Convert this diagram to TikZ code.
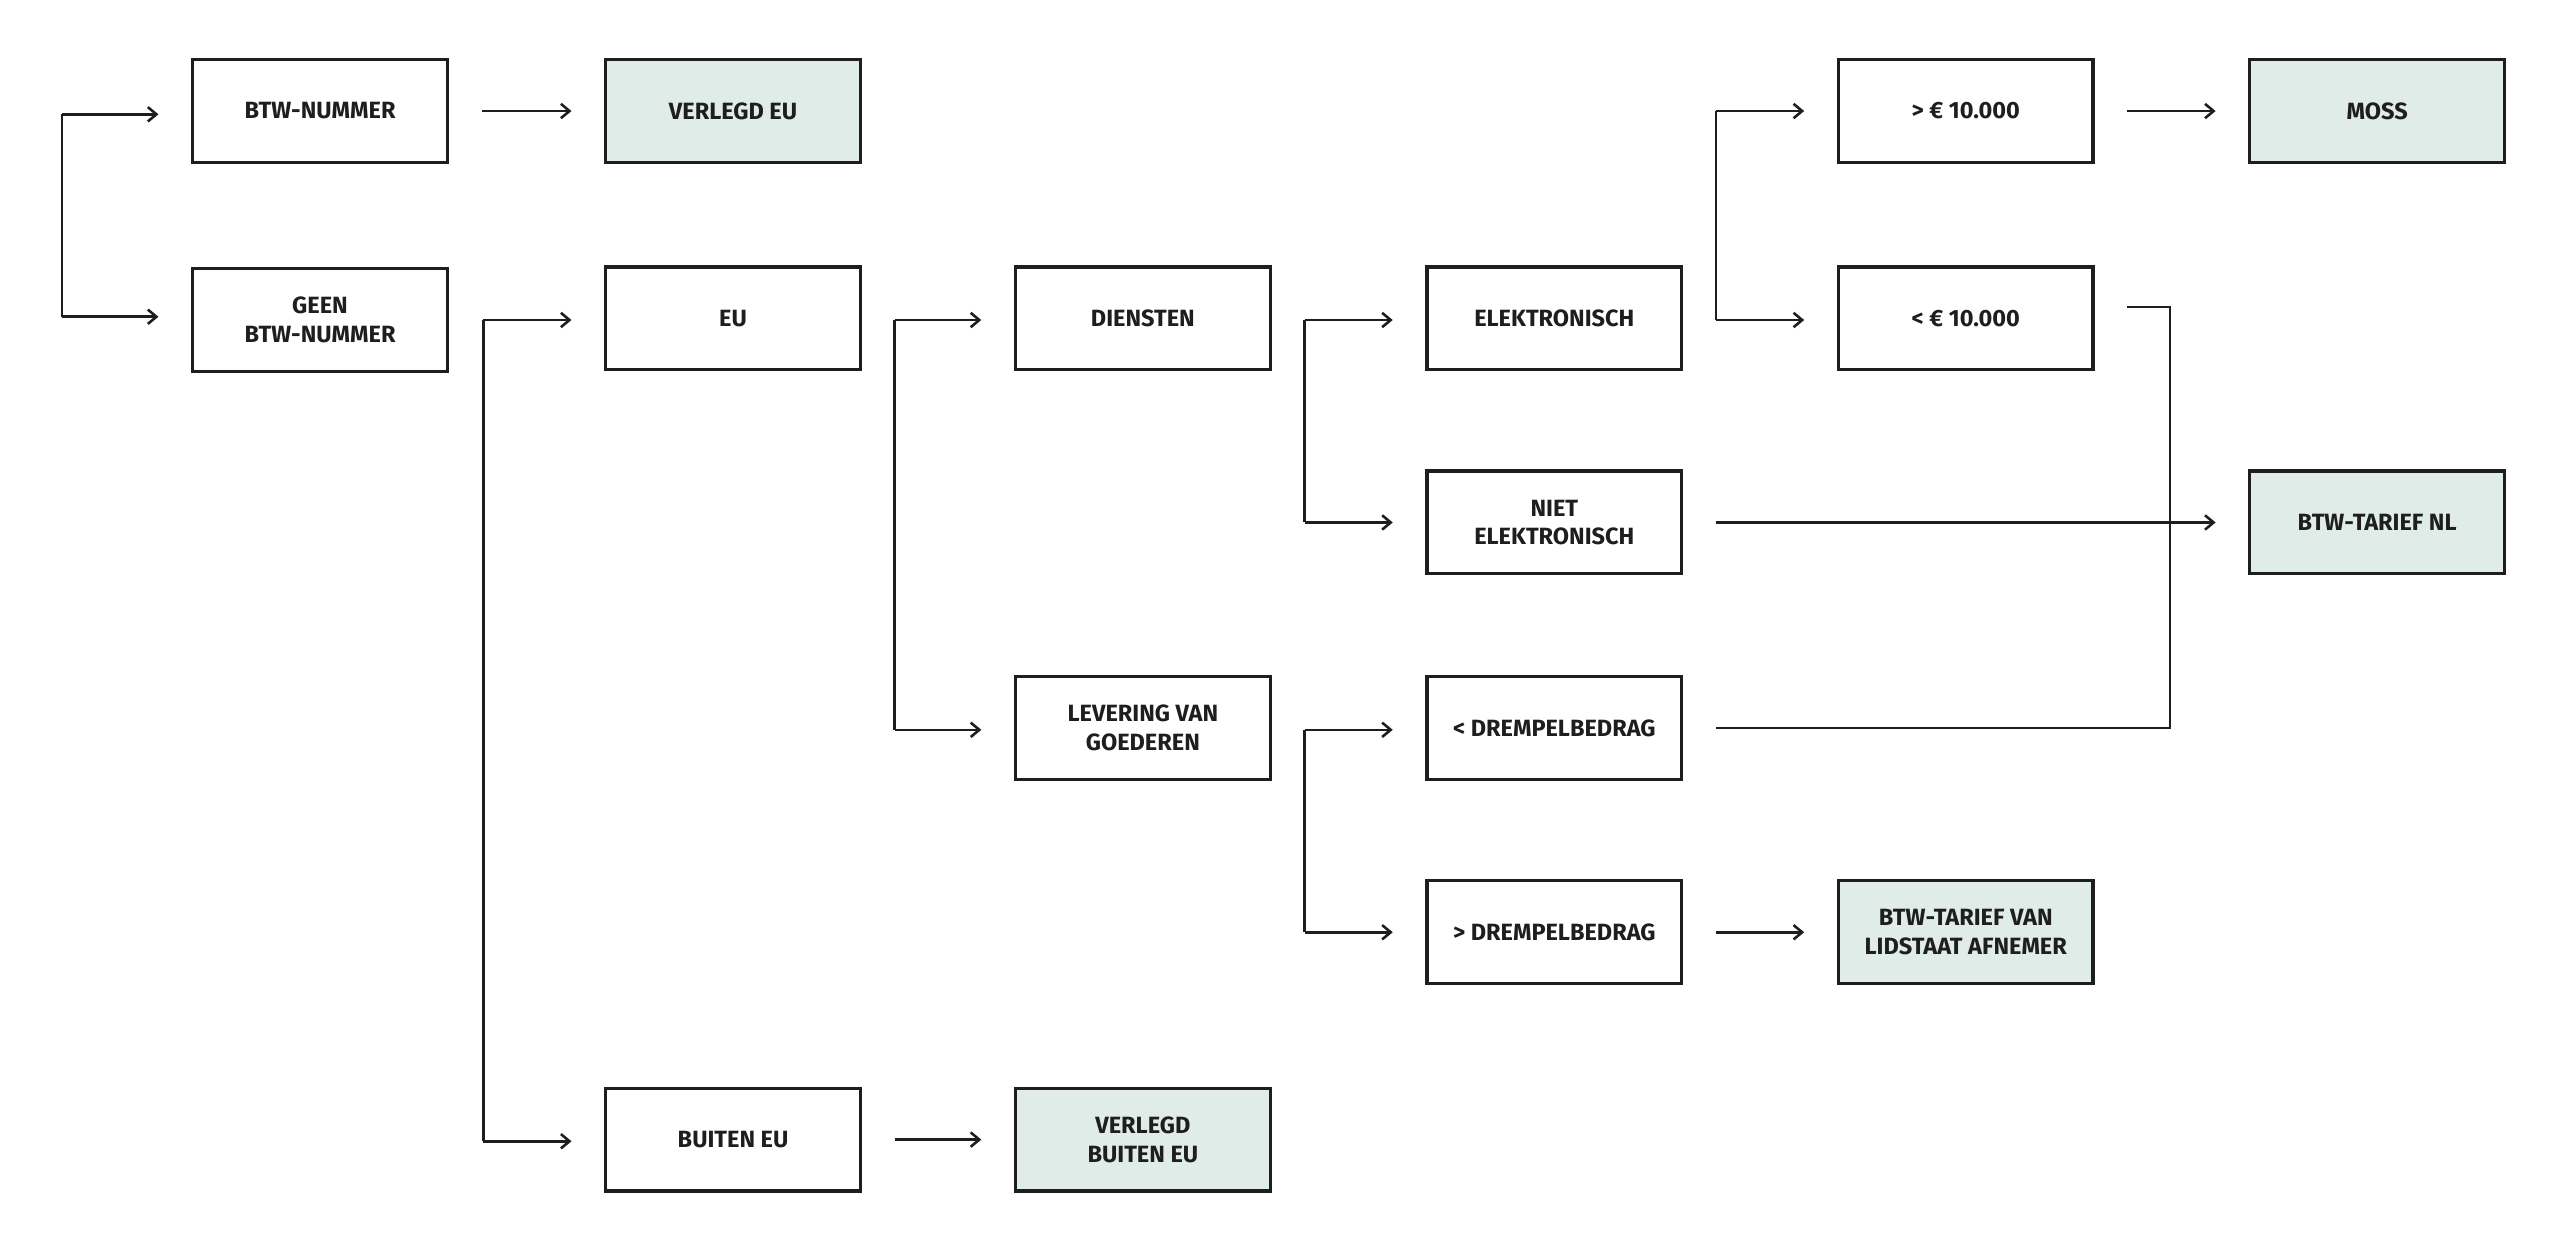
\documentclass[tikz,border=0pt]{standalone}
\usepackage{fontspec}
\setmainfont{Fira Sans}
\usetikzlibrary{arrows.meta}
\definecolor{mint}{HTML}{DFECE8}
\definecolor{ink}{HTML}{1E1E1E}
\begin{document}
\begin{tikzpicture}[x=0.02cm,y=-0.02cm,
  box/.style={draw=ink,line width=1.1pt,minimum width=3.12cm,minimum height=1.26cm,align=center,font=\fontsize{8.2}{10}\selectfont\bfseries,text=ink},
  fbox/.style={box,fill=mint},
  ln/.style={draw=ink,line width=0.9pt},
  ar/.style={ln,-{Straight Barb[length=3pt,width=5pt]},shorten >=0.4cm},
  ars/.style={ar,shorten <=0.4cm}]
\useasboundingbox (0,0) rectangle (1568,768);
\node[box] (btw) at (196,68) {BTW-NUMMER};
\node[box] (geen) at (196,196) {GEEN\\BTW-NUMMER};
\node[fbox] (veu) at (449,68) {VERLEGD EU};
\node[box] (eu) at (449,195) {EU};
\node[box] (buiten) at (449,698) {BUITEN EU};
\node[fbox] (vbuiten) at (700,698) {VERLEGD\\BUITEN EU};
\node[box] (diensten) at (700,195) {DIENSTEN};
\node[box] (levering) at (700,446) {LEVERING VAN\\GOEDEREN};
\node[box] (elek) at (952,195) {ELEKTRONISCH};
\node[box] (niet) at (952,320) {NIET\\ELEKTRONISCH};
\node[box] (kdrem) at (952,446) {< DREMPELBEDRAG};
\node[box] (gdrem) at (952,571) {> DREMPELBEDRAG};
\node[box] (g10) at (1204,68) {> € 10.000};
\node[box] (k10) at (1204,195) {< € 10.000};
\node[fbox] (lid) at (1204,571) {BTW-TARIEF VAN\\LIDSTAAT AFNEMER};
\node[fbox] (moss) at (1456,68) {MOSS};
\node[fbox] (nl) at (1456,320) {BTW-TARIEF NL};
% spines
\coordinate (s0a) at (38,70); \coordinate (s0b) at (38,194);
\draw[ln] (s0a) -- (s0b);
\draw[ar] (s0a) -- (btw.west|-s0a);
\draw[ar] (s0b) -- (geen.west|-s0b);
\coordinate (s1a) at (296,196); \coordinate (s1b) at (296,699);
\draw[ln] (s1a) -- (s1b);
\draw[ar] (s1a) -- (eu.west|-s1a);
\draw[ar] (s1b) -- (buiten.west|-s1b);
\coordinate (s2a) at (548,196); \coordinate (s2b) at (548,447);
\draw[ln] (s2a) -- (s2b);
\draw[ar] (s2a) -- (diensten.west|-s2a);
\draw[ar] (s2b) -- (levering.west|-s2b);
\coordinate (s3a) at (799,196); \coordinate (s3b) at (799,320);
\draw[ln] (s3a) -- (s3b);
\draw[ar] (s3a) -- (elek.west|-s3a);
\draw[ar] (s3b) -- (niet.west|-s3b);
\coordinate (s4a) at (799,447); \coordinate (s4b) at (799,571);
\draw[ln] (s4a) -- (s4b);
\draw[ar] (s4a) -- (kdrem.west|-s4a);
\draw[ar] (s4b) -- (gdrem.west|-s4b);
\coordinate (s5a) at (1051,68); \coordinate (s5b) at (1051,196);
\draw[ln] (s5a) -- (s5b);
\draw[ar] (s5a) -- (g10.west|-s5a);
\draw[ar] (s5b) -- (k10.west|-s5b);
% straight arrows
\draw[ars] (btw.east) -- (veu.west);
\draw[ars] (buiten.east) -- (vbuiten.west);
\draw[ars] (g10.east) -- (moss.west);
\draw[ars] (gdrem.east) -- (lid.west);
\draw[ars] (niet.east) -- (nl.west);
% merge line
\coordinate (m) at (1329,188);
\draw[ln,shorten <=0.4cm] (kdrem.east) -| (m) -- ([xshift=0.4cm]k10.east|-m);
\end{tikzpicture}
\end{document}
